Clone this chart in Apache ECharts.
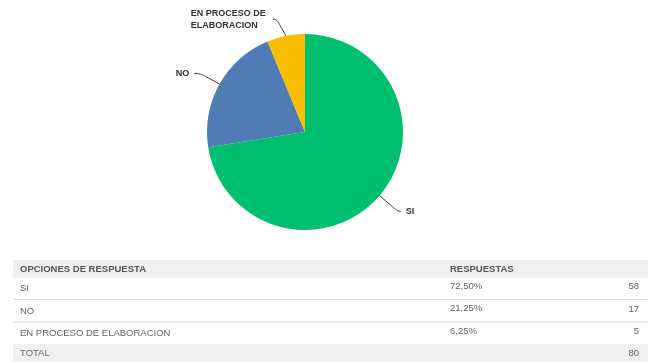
<!DOCTYPE html>
<html><head><meta charset="utf-8">
<script src="https://cdn.jsdelivr.net/npm/echarts@6/dist/echarts.min.js"></script>
<style>html,body{margin:0;padding:0;background:#fff}#c{width:654px;height:362px}</style>
</head><body><div id="c"></div>
<script>
var categories = ['SI', 'NO', 'EN PROCESO DE ELABORACION'];
var values = [58, 17, 5];
var colors = ['#00bf6f', '#507cb6', '#f9be00'];
var headerLabels = ['OPCIONES DE RESPUESTA', 'RESPUESTAS'];
var totalLabel = 'TOTAL';

var total = values.reduce(function (a, b) { return a + b; }, 0);
function pct(v) { return (v / total * 100).toFixed(2).replace('.', ',') + '%'; }

var chart = echarts.init(document.getElementById('c'), null, { renderer: 'canvas' });

var font = '"Liberation Sans", Arial, sans-serif';
var L = 13, R = 648, W = R - L;
var tx = 20, px = 450, nx = 639;
var graphics = [];
// header
graphics.push({ type: 'rect', shape: { x: L, y: 260, width: W, height: 18 }, style: { fill: '#f0f0f0' } });
graphics.push({ type: 'text', x: tx, y: 269, style: { text: headerLabels[0], font: 'bold 9.5px ' + font, fill: '#555', verticalAlign: 'middle' } });
graphics.push({ type: 'text', x: px, y: 269, style: { text: headerLabels[1], font: 'bold 9.5px ' + font, fill: '#555', verticalAlign: 'middle' } });
var rowTop = 277, rowH = 22.5;
categories.forEach(function (c, i) {
  var y0 = rowTop + i * rowH;
  graphics.push({ type: 'text', x: tx, y: y0 + 11.5, style: { text: c, font: '9.5px ' + font, fill: '#666', verticalAlign: 'middle' } });
  graphics.push({ type: 'text', x: px, y: y0 + 9, style: { text: pct(values[i]), font: '9.5px ' + font, fill: '#666', verticalAlign: 'middle' } });
  graphics.push({ type: 'text', x: nx, y: y0 + 9.5, style: { text: String(values[i]), font: '9.5px ' + font, fill: '#666', verticalAlign: 'middle', align: 'right' } });
  if (i < categories.length - 1) {
    graphics.push({ type: 'line', shape: { x1: L, y1: y0 + rowH, x2: R, y2: y0 + rowH }, style: { stroke: '#dcdcdc', lineWidth: 1 } });
  }
});
graphics.push({ type: 'rect', shape: { x: L, y: 344, width: W, height: 18 }, style: { fill: '#f0f0f0' } });
graphics.push({ type: 'text', x: tx, y: 353.5, style: { text: totalLabel, font: '9.5px ' + font, fill: '#666', verticalAlign: 'middle' } });
graphics.push({ type: 'text', x: nx, y: 353, style: { text: String(total), font: '9.5px ' + font, fill: '#666', verticalAlign: 'middle', align: 'right' } });

var lineLens = [[24, 3], [22, 6], [21, 4]];

chart.setOption({
  animation: false,
  color: colors,
  graphic: graphics,
  series: [{
    type: 'pie',
    center: [305, 132],
    radius: 98,
    startAngle: 90,
    clockwise: true,
    data: categories.map(function (c, i) {
      return { name: c, value: values[i], labelLine: { length: lineLens[i][0], length2: lineLens[i][1] } };
    }),
    itemStyle: { borderWidth: 0 },
    label: {
      show: true,
      formatter: '{b}',
      color: '#333',
      fontFamily: font,
      fontWeight: 'bold',
      fontSize: 9,
      lineHeight: 12,
      width: 82,
      overflow: 'break'
    },
    labelLayout: function (p) {
      if (p.dataIndex === 2) return { x: p.labelRect.x, align: 'left', dy: 4 };
      return {};
    },
    labelLine: { show: true, smooth: 0.5, lineStyle: { color: '#333', width: 1 } }
  }]
});
</script></body></html>
